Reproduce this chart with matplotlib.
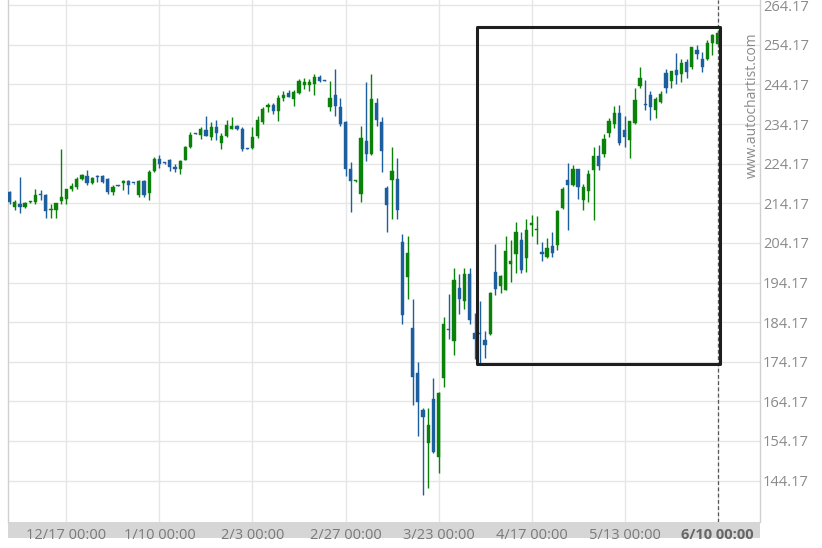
import matplotlib
matplotlib.use("Agg")
import matplotlib.pyplot as plt
from matplotlib.patches import Rectangle
import numpy as np

# ---- data ----
opens = [217.1, 213.3, 214.0, 213.3, 214.5, 214.5, 216.6, 216.2, 212.5, 212.5, 214.8,
         215.2, 217.8, 218.2, 220.2, 221.1, 219.2, 221.0, 221.0, 220.2, 217.1, 218.7,
         219.2, 219.8, 219.3, 216.2, 219.8, 216.8, 222.4, 225.3, 224.4, 225.1, 223.4,
         222.8, 225.1, 228.5, 231.8, 231.5, 232.7, 231.0, 233.5, 229.5, 231.2, 232.9,
         233.8, 232.9, 228.0, 228.1, 231.2, 234.6, 238.4, 239.0, 237.5, 240.7, 241.9,
         240.5, 241.9, 244.1, 244.1, 244.3, 246.1, 245.2, 238.4, 241.6, 238.4, 234.6,
         222.8, 219.8, 216.4, 230.0, 226.6, 239.6, 234.8, 218.0, 220.1, 220.3, 204.4,
         195.6, 182.8, 171.4, 162.0, 153.6, 164.8, 150.2, 170.0, 182.5, 179.5, 192.9,
         189.5, 196.4, 181.5, 181.5, 179.7, 181.2, 196.7, 193.3, 192.3, 198.9, 201.4,
         204.9, 200.3, 208.6, 207.5, 201.9, 200.6, 203.4, 203.7, 212.9, 220.1, 218.9,
         222.9, 214.9, 217.4, 222.5, 226.0, 226.5, 232.0, 234.2, 237.0, 232.8, 230.1,
         234.5, 243.8, 239.1, 241.5, 237.7, 239.8, 247.1, 245.1, 247.8, 246.8, 249.9,
         248.6, 252.8, 250.5, 250.7, 254.7, 254.5]
highs = [217.3, 215.0, 220.9, 214.5, 214.8, 217.7, 217.5, 216.5, 214.1, 214.3, 228.0,
         217.9, 219.2, 220.7, 221.5, 222.6, 220.9, 221.3, 221.3, 220.5, 218.8, 218.8,
         220.0, 220.0, 219.4, 220.0, 220.0, 222.6, 225.9, 226.4, 224.5, 225.3, 224.2,
         225.0, 228.7, 232.2, 231.9, 233.5, 236.3, 234.6, 235.2, 231.8, 235.2, 235.9,
         233.9, 233.5, 228.1, 233.5, 236.3, 238.4, 239.4, 239.4, 241.6, 242.4, 242.7,
         242.7, 245.5, 245.9, 245.5, 246.8, 246.6, 245.3, 245.1, 248.0, 240.7, 235.0,
         224.5, 220.0, 233.8, 244.7, 246.9, 240.7, 235.9, 218.6, 228.3, 225.6, 206.5,
         205.8, 189.9, 174.2, 162.4, 162.4, 170.0, 166.4, 185.5, 191.2, 197.9, 196.4,
         197.9, 197.9, 186.4, 189.6, 181.8, 191.8, 203.9, 196.1, 205.8, 204.8, 209.5,
         206.8, 210.1, 211.2, 211.0, 204.3, 205.3, 206.8, 212.5, 218.4, 224.3, 223.8,
         222.9, 219.0, 222.5, 228.5, 229.0, 231.7, 235.6, 238.7, 238.9, 236.2, 235.0,
         243.2, 248.5, 245.3, 242.6, 241.1, 242.6, 248.2, 247.6, 252.1, 250.5, 250.7,
         253.7, 254.1, 252.4, 255.5, 256.9, 257.9]
lows = [214.0, 212.5, 211.6, 212.9, 214.3, 214.1, 215.0, 210.4, 210.4, 210.4, 214.1,
        214.1, 217.3, 217.7, 220.0, 218.8, 219.0, 219.6, 219.2, 216.4, 216.2, 218.5,
        217.5, 216.5, 219.1, 215.8, 215.8, 215.0, 222.1, 223.0, 224.2, 222.4, 222.0,
        221.6, 225.0, 228.1, 231.6, 230.4, 231.2, 230.1, 230.1, 227.9, 231.0, 232.9,
        232.8, 227.4, 227.8, 227.9, 230.6, 234.3, 237.1, 236.7, 235.0, 240.0, 240.9,
        238.8, 241.7, 243.0, 242.6, 241.6, 244.7, 245.0, 237.5, 236.3, 233.8, 221.1,
        211.9, 219.6, 214.4, 224.9, 226.4, 233.8, 222.0, 206.9, 210.2, 210.2, 183.8,
        190.1, 163.2, 155.3, 140.5, 142.2, 151.1, 146.0, 167.9, 179.8, 175.9, 186.2,
        187.6, 183.8, 174.8, 173.4, 175.0, 181.0, 191.0, 191.5, 192.2, 194.4, 196.5,
        196.5, 196.9, 205.9, 203.9, 199.5, 200.3, 200.7, 202.4, 212.8, 207.4, 218.5,
        215.3, 212.4, 214.6, 209.9, 222.7, 225.8, 231.0, 233.3, 228.9, 228.3, 225.5,
        234.3, 243.2, 237.7, 235.2, 235.6, 239.5, 241.9, 243.2, 244.4, 244.8, 245.7,
        248.2, 250.5, 247.4, 250.3, 251.6, 254.5]
closes = [214.5, 214.5, 213.3, 214.3, 214.6, 216.2, 216.2, 212.3, 212.6, 214.3, 215.7,
          217.7, 218.5, 220.2, 221.3, 219.2, 220.5, 220.7, 219.6, 217.1, 218.4, 218.6,
          219.8, 218.8, 219.2, 219.8, 216.2, 222.1, 225.3, 224.2, 224.3, 223.3, 222.8,
          224.8, 228.5, 231.4, 231.7, 232.9, 231.2, 233.5, 231.8, 231.2, 233.9, 233.8,
          232.9, 227.9, 227.9, 230.8, 235.2, 237.9, 239.0, 237.4, 240.7, 241.5, 241.1,
          242.2, 245.1, 244.9, 244.9, 246.1, 245.1, 245.1, 240.7, 238.8, 234.2, 222.8,
          219.9, 219.9, 230.6, 226.6, 240.5, 235.2, 227.3, 213.8, 222.2, 212.5, 185.9,
          201.5, 170.4, 164.1, 160.3, 158.2, 151.5, 166.2, 183.8, 182.2, 194.9, 190.1,
          196.4, 184.7, 179.9, 181.2, 178.5, 191.5, 192.5, 195.9, 202.0, 199.5, 207.0,
          197.4, 207.4, 209.1, 207.7, 201.4, 202.8, 201.7, 212.1, 217.9, 218.7, 222.9,
          218.3, 218.3, 221.6, 226.0, 223.7, 230.3, 235.0, 237.0, 229.3, 230.8, 235.0,
          240.2, 245.9, 238.9, 238.4, 240.6, 241.7, 243.2, 247.6, 246.5, 249.5, 247.4,
          253.7, 251.8, 248.6, 254.7, 256.6, 257.2]

tick_labels = ["12/17 00:00", "1/10 00:00", "2/3 00:00", "2/27 00:00",
               "3/23 00:00", "4/17 00:00", "5/13 00:00", "6/10 00:00"]
tick_candle = [11, 29, 47, 65, 83, 101, 119, 137]   # candle index of each date label
y_ticks = [144.17, 154.17, 164.17, 174.17, 184.17, 194.17, 204.17,
           214.17, 224.17, 234.17, 244.17, 254.17, 264.17]

# highlighted pattern box (candle index range, price range)
box_x = [90.4, 137.5]
box_y = [173.5, 258.6]

GREEN = "#0a820a"
BLUE = "#1d5e9e"

plt.rcParams['font.family'] = ['Open Sans', 'DejaVu Sans']

fig = plt.figure(figsize=(8.22, 5.48), dpi=100)
W, H = 822, 548
ax = fig.add_axes([7.5 / W, (H - 522) / H, (760 - 7.5) / W, 522 / H])

n = len(opens)
x = np.arange(n)
o = np.array(opens); c = np.array(closes)
hi = np.array(highs); lo = np.array(lows)
up = c >= o
cols = np.where(up, GREEN, BLUE)

ax.vlines(x, lo, hi, colors=cols, linewidth=1.0, zorder=3)
body_bottom = np.minimum(o, c)
body_h = np.maximum(np.abs(c - o), 0.3)
ax.bar(x, body_h, bottom=body_bottom, width=0.62, color=cols,
       edgecolor=cols, linewidth=0.3, zorder=4)

ax.set_xlim(-0.4, 145.2)
ax.set_ylim(133.7, 265.5)

ax.set_yticks(y_ticks)
ax.set_yticklabels([f"{v:.2f}" for v in y_ticks])
ax.yaxis.tick_right()
ax.tick_params(axis='y', length=0, pad=2, labelsize=10.5, labelcolor="#8a8a8a")

ax.set_xticks(tick_candle)
ax.set_xticklabels(tick_labels)
ax.tick_params(axis='x', length=0, pad=4, labelsize=10.5, labelcolor="#7a7a7a")
ax.get_xticklabels()[-1].set_fontweight('bold')
ax.get_xticklabels()[-1].set_color("#666666")

ax.grid(True, color="#e6e6e6", linewidth=1.0, zorder=0)
ax.set_axisbelow(True)
for s in ["top", "bottom"]:
    ax.spines[s].set_visible(False)
for s in ["left", "right"]:
    ax.spines[s].set_color("#d0d0d0")
    ax.spines[s].set_linewidth(1.0)

# current-time dashed line
ax.axvline(tick_candle[-1], color="#555555", linestyle=(0, (3, 2)),
           linewidth=0.9, zorder=5)

# pattern box
ax.add_patch(Rectangle((box_x[0], box_y[0]), box_x[1] - box_x[0], box_y[1] - box_y[0],
                       fill=False, edgecolor="#1e1e1e", linewidth=2.2,
                       joinstyle='round', zorder=6))

# gray x-axis band
fig.add_artist(Rectangle((7.5 / W, (H - 538) / H), (760 - 7.5) / W, 16 / H,
                         transform=fig.transFigure, facecolor="#d6d6d6",
                         edgecolor="none", zorder=0))

# watermark
fig.text(752 / W, 1 - 105 / H, "www.autochartist.com", rotation=90,
         ha='center', va='center', fontsize=10, color="#8a8a8a")

fig.savefig("out.png", dpi=100)
